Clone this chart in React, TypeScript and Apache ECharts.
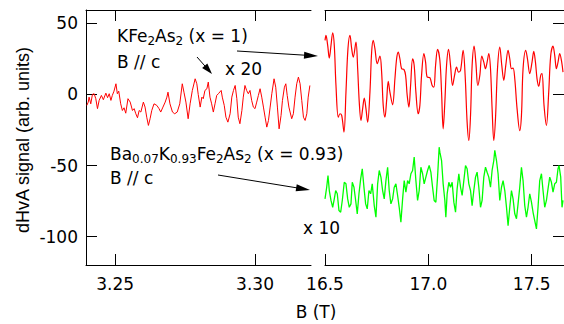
import React, { useEffect, useRef } from "react";
import * as echarts from "echarts";

const yTicks = [-100, -50, 0, 50];
const leftXTicks = [3.25, 3.3];
const rightXTicks = [16.5, 17.0, 17.5];

// KFe2As2, low field (x 20)
const leftB = [
  3.2399, 3.2404, 3.2407, 3.2413, 3.2419, 3.2425, 3.2431, 3.2437, 3.2443, 3.2451,
  3.2458, 3.2467, 3.2473, 3.2479, 3.2485, 3.249, 3.2496, 3.2503, 3.2508, 3.2513,
  3.252, 3.2526, 3.2532, 3.2538, 3.2546, 3.2554, 3.2562, 3.2568, 3.2574, 3.258,
  3.2586, 3.2592, 3.2601, 3.2607, 3.2613, 3.2619, 3.2625, 3.2631, 3.2639, 3.2649,
  3.2657, 3.2663, 3.2671, 3.2679, 3.2685, 3.2689, 3.2696, 3.2705, 3.2713, 3.2722,
  3.2731, 3.274, 3.2746, 3.2753, 3.2761, 3.2768, 3.2776, 3.2786, 3.2792, 3.2797,
  3.2804, 3.281, 3.2815, 3.2821, 3.2828, 3.2833, 3.2839, 3.2845, 3.2851, 3.2857,
  3.2863, 3.2869, 3.2879, 3.2883, 3.289, 3.2896, 3.2903, 3.2911, 3.2917, 3.2923,
  3.2929, 3.2935, 3.294, 3.2946, 3.2953, 3.2958, 3.2964, 3.297, 3.2976, 3.2982,
  3.2988, 3.2994, 3.3, 3.3006, 3.3012, 3.3018, 3.3024, 3.303, 3.3036, 3.3042,
  3.3048, 3.3054, 3.306, 3.3068, 3.3074, 3.308, 3.3086, 3.3093, 3.3098, 3.3105,
  3.311, 3.3115, 3.3121, 3.3131, 3.3137, 3.3143, 3.3149, 3.3155, 3.3161, 3.3167,
  3.3173, 3.3179, 3.3185, 3.319, 3.3196,
];
const leftSignal = [
  -7.7, -5.4, -1.9, -6.6, 0, 0.5, -3, -10, -4.2, -0.7,
  -3.7, 0.9, -2.3, 0.5, -4.2, -0.7, 2.3, 7.5, 0.5, 2.3,
  -6.6, -11.3, -9.4, -13.2, -3, -5.4, -11.3, -10, -13.6, -16.4,
  -11.3, -12.4, -5.4, -8.9, -16, -21.8, -17.1, -11.3, -6.6, -7.7,
  -10, -12.4, -8.9, -5.4, -1.9, 1.6, -6.6, -12.4, -13.6, -12.4,
  -6.6, 7.5, 1.6, -5.4, -17.1, -6.6, 2.8, 11, 7.5, 0,
  -8.9, -1.9, -3, 2.8, 4, 8.7, -1.9, -6.6, -12.4, -6.6,
  -0.7, 0.5, 2.8, -1.9, -7.7, -16, -19.5, -13.6, -1.9, 2.8,
  6.3, -3, -16, -20.6, -11.3, -1.9, 6.3, 2.8, 0.5, 2.8,
  -4.2, -8.9, -10, -5.4, -0.7, 4, -1.9, -8.9, -16, -23,
  -18.3, -8.9, 0.5, 11, 5.1, -8.9, -24.2, -14.8, -4.2, 5.1,
  7.5, -0.7, -8.9, -17.1, -13.6, -1.9, 7.5, 12.2, 7.5, -4.2,
  -16, -18.3, -13.6, -1.9, 6.3,
];

// KFe2As2, high field
const kB = [
  16.5, 16.5048, 16.513, 16.5208, 16.529, 16.5372, 16.5449, 16.5531, 16.5643, 16.5725,
  16.5807, 16.5918, 16.6014, 16.6111, 16.6208, 16.629, 16.6367, 16.6498, 16.658, 16.6657,
  16.6739, 16.6821, 16.6899, 16.6981, 16.7063, 16.7174, 16.7256, 16.7333, 16.7415, 16.7527,
  16.7657, 16.7739, 16.7816, 16.7899, 16.7981, 16.8058, 16.814, 16.8271, 16.8382, 16.8464,
  16.8541, 16.8623, 16.8705, 16.8816, 16.8899, 16.8976, 16.9058, 16.914, 16.9237, 16.9314,
  16.9396, 16.9507, 16.9589, 16.9671, 16.9783, 16.9865, 16.9942, 17.0072, 17.0184, 17.0266,
  17.0348, 17.0444, 17.0556, 17.0638, 17.0715, 17.0797, 17.0879, 17.0976, 17.1072, 17.1169,
  17.1266, 17.1362, 17.1459, 17.1556, 17.1681, 17.1778, 17.1874, 17.1957, 17.2039, 17.2116,
  17.2213, 17.2295, 17.2391, 17.2488, 17.2585, 17.2681, 17.2763, 17.2841, 17.2923, 17.3005,
  17.3082, 17.3164, 17.3246, 17.3343, 17.3454, 17.3551, 17.3647, 17.3744, 17.3855, 17.3937,
  17.4019, 17.4097, 17.4179, 17.429, 17.442, 17.4502, 17.458, 17.471, 17.4792, 17.4903,
  17.5014, 17.5097, 17.5179, 17.5256, 17.5338, 17.5435, 17.5498, 17.5594, 17.571, 17.5821,
  17.5918, 17.6029, 17.6111, 17.6193, 17.6271, 17.6353, 17.6449, 17.6512,
];
const kSignal = [
  38, 41.5, 34.5, 25.6, 34.5, 43.4, 34.5, 6.3, -16, -13.6,
  -14.8, -26.5, 1.6, 32.2, 41.5, 32.2, 26.3, 36.8, 18.1, -5.4,
  -18.3, -10, -2.6, -10, -19.5, 1.6, 29.8, 38, 32.2, 21.6,
  27, 15.7, -7.7, -16, -4.2, 9.2, 1.6, -7.3, 11, 25.1,
  29.8, 25.1, 18.1, 17.6, 13.4, -0.7, -8.9, 6.3, 25.1, 20.4,
  1.6, -13.6, -7.7, 13.4, 28.7, 22.7, 12.2, 11.8, 6.3, 5.1,
  20.4, 31.7, 24, 1.6, -24.2, -5.4, 20.4, 31.7, 20.4, 6.3,
  13.4, 19.2, 15.7, 16.9, 31, 13.4, -19.5, -32.4, -14.8, 20.4,
  34, 22.7, 6.3, 13.4, 27, 22.7, 18.1, 22.7, 28.7, 18.1,
  -10, -32.4, -17.1, 18.1, 33.3, 20.4, 9.9, 20.4, 31, 25.1,
  18.1, 18.5, 11, -10, -25.4, -14.8, 18.1, 31, 25.1, 14.6,
  22.7, 30.3, 22.7, 11, 5.8, 13.4, 14.6, -7.7, -21.8, 1.6,
  27.5, 34, 27.5, 18.1, 22.7, 28.7, 22.7, 15.7,
];

// Ba0.07K0.93Fe2As2, high field (x 10)
const baB = [
  16.5, 16.5082, 16.5145, 16.5208, 16.529, 16.5372, 16.5449, 16.5517, 16.5594, 16.5676,
  16.5758, 16.5836, 16.5932, 16.6014, 16.6097, 16.6174, 16.6256, 16.6319, 16.6401, 16.6483,
  16.656, 16.6643, 16.6725, 16.6802, 16.6884, 16.6966, 16.7043, 16.7126, 16.7208, 16.7285,
  16.7382, 16.7464, 16.7546, 16.7623, 16.7705, 16.7787, 16.7865, 16.7947, 16.8029, 16.8106,
  16.8188, 16.8271, 16.8348, 16.843, 16.8512, 16.8589, 16.8671, 16.8754, 16.8831, 16.8913,
  16.8995, 16.9072, 16.9155, 16.9237, 16.9314, 16.9396, 16.9478, 16.9556, 16.9638, 16.972,
  16.9797, 16.9879, 16.9961, 17.0039, 17.0121, 17.0203, 17.028, 17.0362, 17.0444, 17.0522,
  17.0556, 17.0638, 17.0715, 17.0797, 17.0845, 17.0908, 17.099, 17.1072, 17.115, 17.1232,
  17.1314, 17.1391, 17.1473, 17.1556, 17.1633, 17.1715, 17.1797, 17.1874, 17.1957, 17.2039,
  17.2116, 17.2198, 17.228, 17.2357, 17.244, 17.2522, 17.2599, 17.2681, 17.2763, 17.2841,
  17.2923, 17.3005, 17.3082, 17.3164, 17.3213, 17.3295, 17.3372, 17.3454, 17.3536, 17.3614,
  17.3696, 17.3778, 17.3855, 17.3937, 17.4019, 17.4097, 17.4179, 17.4261, 17.4338, 17.442,
  17.4502, 17.458, 17.4662, 17.4744, 17.4821, 17.4903, 17.4986, 17.5063, 17.5145, 17.5227,
  17.5304, 17.5386, 17.5469, 17.5546, 17.5628, 17.571, 17.5787, 17.587, 17.5952, 17.6029,
  17.6111, 17.6193, 17.6271, 17.6319, 17.6401, 17.6464, 17.6512,
];
const baSignal = [
  -73.5, -65.3, -57, -67.6, -74.6, -79.4, -73.5, -67.6, -69.9, -81.7,
  -82.9, -74.6, -61.8, -62.9, -73.5, -79.4, -77, -61.8, -65.3, -74.6,
  -84, -69.9, -59.4, -52.3, -65.3, -77, -80.5, -67.6, -69.9, -62.9,
  -78.2, -86.4, -62.9, -53.5, -58.2, -67.6, -73.5, -60.6, -51.2, -67.6,
  -77, -73.5, -65.3, -62.9, -71.1, -79.4, -89.9, -73.5, -60.6, -68.8,
  -60.6, -62.9, -55.8, -53.5, -44.1, -60.6, -74.6, -67.6, -51.2, -55.8,
  -62.9, -58.2, -53.5, -50, -54.7, -65.3, -74.6, -75.8, -58.2, -37.1,
  -40.6, -46.5, -62.9, -74.6, -86.4, -69.9, -61.8, -65.3, -61.8, -75.8,
  -82.9, -66.4, -55.8, -65.3, -71.1, -60.6, -50, -52.3, -62.9, -67.6,
  -78.2, -67.6, -58.2, -54.7, -65.3, -79.4, -74.6, -58.2, -51.2, -54.7,
  -58.2, -65.3, -53.5, -46.5, -39.4, -46.5, -55.8, -74.6, -65.3, -60.6,
  -67.6, -79.4, -92.3, -79.4, -67.6, -73.5, -84, -87.5, -77, -65.3,
  -51.2, -60.6, -78.2, -86.4, -79.4, -69.9, -75.8, -82.9, -88.7, -94.6,
  -79.4, -60.6, -55.8, -67.6, -79.4, -74.6, -66.4, -58.2, -61.8, -68.8,
  -62.9, -61.8, -52.3, -50, -58.2, -79.4, -74.6,
];

const FONT = "DejaVu Sans";

function arrow(x1: number, y1: number, x2: number, y2: number, len: number, half: number) {
  const dx = x2 - x1;
  const dy = y2 - y1;
  const d = Math.sqrt(dx * dx + dy * dy);
  const ux = dx / d;
  const uy = dy / d;
  const bx = x2 - ux * len;
  const by = y2 - uy * len;
  return [
    {
      type: "line",
      shape: { x1, y1, x2: bx + ux * 2, y2: by + uy * 2 },
      style: { stroke: "#000", lineWidth: 1 },
    },
    {
      type: "polygon",
      shape: {
        points: [
          [x2, y2],
          [bx - uy * half, by + ux * half],
          [bx + uy * half, by - ux * half],
        ],
      },
      style: { fill: "#000" },
    },
  ];
}

const richStyles = {
  n: { fontSize: 17, fontFamily: FONT, lineHeight: 17, verticalAlign: "top", fill: "#000", color: "#000" },
  s: { fontSize: 12, fontFamily: FONT, lineHeight: 12, verticalAlign: "top", padding: [7, 0, 0, 0], fill: "#000", color: "#000" },
};

function plainText(text: string, x: number, y: number, align = "left") {
  return {
    type: "text",
    x,
    y,
    style: {
      text,
      fontSize: 17,
      fontFamily: FONT,
      fill: "#000",
      textAlign: align,
      align,
      textVerticalAlign: "middle",
      verticalAlign: "middle",
    },
  };
}

function richText(text: string, x: number, y: number) {
  return {
    type: "text",
    x,
    y,
    style: {
      text,
      fontSize: 17,
      fontFamily: FONT,
      fill: "#000",
      textAlign: "left",
      align: "left",
      textVerticalAlign: "top",
      verticalAlign: "top",
      rich: richStyles,
    },
  };
}

function xAxisPair(grid: number, min: number, max: number, ticks: number[], digits: number) {
  const line = { show: true, onZero: false, lineStyle: { color: "#000", width: 1 } };
  return [
    {
      type: "value",
      gridIndex: grid,
      position: "bottom",
      min,
      max,
      axisLine: line,
      axisTick: { show: true, inside: true, length: 11, customValues: ticks, lineStyle: { color: "#000" } },
      axisLabel: {
        show: true,
        customValues: ticks,
        formatter: (v: number) => v.toFixed(digits),
        margin: 10,
        fontSize: 17,
        fontFamily: FONT,
        color: "#000",
        showMinLabel: true,
        showMaxLabel: true,
      },
      splitLine: { show: false },
    },
    {
      type: "value",
      gridIndex: grid,
      position: "top",
      min,
      max,
      axisLine: line,
      axisTick: { show: true, inside: true, length: 11, customValues: ticks, lineStyle: { color: "#000" } },
      axisLabel: { show: false },
      splitLine: { show: false },
    },
  ];
}

export default function App() {
  const ref = useRef<HTMLDivElement>(null);
  useEffect(() => {
    if (!ref.current) return;
    const chart = echarts.init(ref.current, null, { renderer: "svg", width: 564, height: 324 });
    const yMin = -120;
    const yMax = 59.4;
    const option: any = {
      animation: false,
      backgroundColor: "#fff",
      grid: [
        { left: 86, top: 10, width: 225, height: 255 },
        { left: 325, top: 10, width: 239, height: 255 },
      ],
      xAxis: [
        ...xAxisPair(0, 3.2396, 3.32, leftXTicks, 2),
        ...xAxisPair(1, 16.5, 17.656, rightXTicks, 1),
      ],
      yAxis: [
        {
          type: "value",
          gridIndex: 0,
          position: "left",
          min: yMin,
          max: yMax,
          axisLine: { show: true, onZero: false, lineStyle: { color: "#000", width: 1 } },
          axisTick: { show: true, inside: true, length: 11, customValues: yTicks, lineStyle: { color: "#000" } },
          axisLabel: {
            show: true,
            customValues: yTicks,
            margin: 8,
            fontSize: 17,
            fontFamily: FONT,
            color: "#000",
          },
          splitLine: { show: false },
        },
        {
          type: "value",
          gridIndex: 1,
          position: "right",
          min: yMin,
          max: yMax,
          axisLine: { show: false, onZero: false },
          axisTick: { show: true, inside: true, length: 11, customValues: yTicks, lineStyle: { color: "#000" } },
          axisLabel: { show: false },
          splitLine: { show: false },
        },
      ],
      series: [
        {
          type: "line",
          xAxisIndex: 0,
          yAxisIndex: 0,
          data: leftB.map((b, i) => [b, leftSignal[i]]),
          showSymbol: false,
          symbol: "none",
          clip: true,
          lineStyle: { color: "#ff0000", width: 1 },
        },
        {
          type: "line",
          xAxisIndex: 2,
          yAxisIndex: 1,
          data: kB.map((b, i) => [b, kSignal[i]]),
          showSymbol: false,
          symbol: "none",
          smooth: 0.35,
          clip: true,
          lineStyle: { color: "#ff0000", width: 1.2 },
        },
        {
          type: "line",
          xAxisIndex: 2,
          yAxisIndex: 1,
          data: baB.map((b, i) => [b, baSignal[i]]),
          showSymbol: false,
          symbol: "none",
          clip: true,
          lineStyle: { color: "#00ff00", width: 1.3 },
        },
      ],
      graphic: [
        richText("{n|KFe}{s|2}{n|As}{s|2}{n|\u00a0(x = 1)}", 117, 27.5),
        plainText("B // c", 117, 62),
        plainText("x 20", 225, 69),
        richText("{n|Ba}{s|0.07}{n|K}{s|0.93}{n|Fe}{s|2}{n|As}{s|2}{n|\u00a0(x = 0.93)}", 110, 145.5),
        plainText("B // c", 110, 177.5),
        plainText("x 10", 303, 228),
        plainText("B (T)", 316, 312, "center"),
        {
          type: "text",
          x: 23,
          y: 140,
          rotation: Math.PI / 2,
          style: {
            text: "dHvA signal (arb. units)",
            fontSize: 18,
            fontFamily: "Liberation Sans",
            fill: "#000",
            textAlign: "center",
            align: "center",
            textVerticalAlign: "middle",
            verticalAlign: "middle",
          },
        },
        ...arrow(237, 51, 318, 56, 14, 3.5),
        ...arrow(197, 57, 212, 74, 11, 3.5),
        ...arrow(218, 175, 310, 190, 14, 3.5),
      ],
    };
    chart.setOption(option);
    return () => chart.dispose();
  }, []);
  return (
    <div
      ref={ref}
      style={{ position: "absolute", left: 0, top: 0, width: 564, height: 324, background: "#fff" }}
    />
  );
}
